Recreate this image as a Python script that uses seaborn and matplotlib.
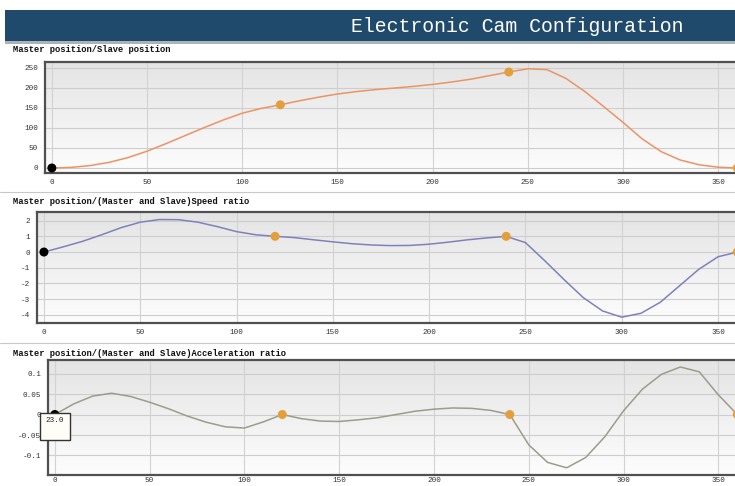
import numpy as np
import pandas as pd
import matplotlib
matplotlib.use("Agg")
import matplotlib.pyplot as plt
from matplotlib.patches import Rectangle
from matplotlib.colors import LinearSegmentedColormap
import seaborn as sns

# ---------------- data ----------------
master = [0, 10, 20, 30, 40, 50, 60, 70, 80, 90, 100, 110, 120,
          130, 140, 150, 160, 170, 180, 190, 200, 210, 220, 230, 240,
          250, 260, 270, 280, 290, 300, 310, 320, 330, 340, 350, 360]

slave_pos = [0, 1.5, 6, 14, 26, 42, 61, 81, 101, 120, 137, 149, 158,
             168, 177, 185, 191, 196, 200, 204, 209, 215, 222, 231, 240,
             248, 246, 224, 191, 153, 114, 73, 41, 20, 8, 2, 0]

speed_ratio = [0, 0.33, 0.68, 1.1, 1.55, 1.9, 2.07, 2.06, 1.9, 1.62, 1.3, 1.1, 1.0,
               0.92, 0.78, 0.65, 0.53, 0.45, 0.41, 0.42, 0.5, 0.63, 0.78, 0.9, 1.0,
               0.6, -0.55, -1.75, -2.9, -3.75, -4.15, -3.9, -3.2, -2.15, -1.1, -0.3, 0]

accel_ratio = [0, 0.026, 0.045, 0.052, 0.044, 0.03, 0.014, -0.004, -0.019, -0.03, -0.033, -0.018, 0,
               -0.01, -0.016, -0.017, -0.013, -0.008, 0.0, 0.008, 0.013, 0.016, 0.015, 0.01, 0,
               -0.074, -0.117, -0.13, -0.105, -0.055, 0.009, 0.062, 0.098, 0.116, 0.104, 0.048, 0]

key_master = [0, 120, 240, 360]
key_pos = [0, 158, 240, 0]
key_speed = [0, 1.0, 1.0, 0]
key_accel = [0, 0, 0, 0]

x_ticks = [0, 50, 100, 150, 200, 250, 300, 350]
pos_ticks = [0, 50, 100, 150, 200, 250]
speed_ticks = [2, 1, 0, -1, -2, -3, -4]
accel_ticks = [0.1, 0.05, 0, -0.05, -0.1]
accel_labels = ["0.1", "0.05", "0", "-0.05", "-0.1"]

title = "Electronic Cam Configuration"
sub1 = "Master position/Slave position"
sub2 = "Master position/(Master and Slave)Speed ratio"
sub3 = "Master position/(Master and Slave)Acceleration ratio"
tooltip = "23.0"

df = pd.DataFrame({"master": master, "pos": slave_pos,
                   "speed": speed_ratio, "accel": accel_ratio})
keys = pd.DataFrame({"master": key_master, "pos": key_pos,
                     "speed": key_speed, "accel": key_accel})

# ---------------- figure ----------------
sns.set_style("white")
plt.rcParams["font.family"] = ["Liberation Mono", "DejaVu Sans Mono"]

W, H = 735, 486
fig = plt.figure(figsize=(W / 100, H / 100), dpi=100)
fig.patch.set_facecolor("white")

def fx(px):
    return px / W

def fy(py):
    return 1 - py / H

# title bar
fig.patches.append(Rectangle((fx(5), fy(41)), fx(730), 31 / H, transform=fig.transFigure,
                             facecolor="#1f4a6b", edgecolor="none", zorder=1))
fig.patches.append(Rectangle((fx(5), fy(44)), fx(730), 3 / H, transform=fig.transFigure,
                             facecolor="#a9b3ba", edgecolor="none", zorder=1))
fig.text(fx(517), fy(26), title, color="white", fontsize=14.2, ha="center", va="center",
         family=["Liberation Mono"])

# separators
for sy in (192, 343):
    fig.add_artist(plt.Line2D([0, 1], [fy(sy), fy(sy)], transform=fig.transFigure,
                              color="#c8c8c8", lw=0.8))

grad_cmap = LinearSegmentedColormap.from_list("g", ["#fdfdfd", "#e4e4e4"])

def make_ax(left, top, bottom, ylim, yticks, ylabels, ycol, color, subtitle, sub_y, xpad):
    ax = fig.add_axes([fx(left), fy(bottom), fx(W - left), (bottom - top) / H])
    grad = np.linspace(0, 1, 100)[:, None]
    ax.imshow(grad, extent=(0, 1, 0, 1), transform=ax.transAxes, cmap=grad_cmap,
              aspect="auto", origin="lower", zorder=0)
    ax.set_xlim(-3.6, 358.8)
    ax.set_ylim(*ylim)
    for t in yticks:
        ax.axhline(t, color="#cdcdcd", lw=0.8, zorder=1)
    for t in x_ticks:
        ax.axvline(t, color="#d2d2d2", lw=0.8, zorder=1)
    sns.lineplot(data=df, x="master", y=ycol, ax=ax, color=color, lw=1.1, zorder=3)
    sns.scatterplot(data=keys.iloc[1:], x="master", y=ycol, ax=ax, color="#e3a03a",
                    s=42, edgecolor="none", zorder=4)
    sns.scatterplot(data=keys.iloc[:1], x="master", y=ycol, ax=ax, color="black",
                    s=42, edgecolor="none", zorder=5)
    ax.set_xticks(x_ticks)
    ax.set_xticklabels([str(t) for t in x_ticks])
    ax.set_yticks(yticks)
    ax.set_yticklabels(ylabels)
    ax.tick_params(axis="both", length=0, labelsize=5.5, labelcolor="#333333")
    ax.tick_params(axis="x", pad=xpad)
    ax.tick_params(axis="y", pad=5)
    ax.set_xlabel("")
    ax.set_ylabel("")
    for side in ("left", "top", "bottom"):
        ax.spines[side].set_color("#505050")
        ax.spines[side].set_linewidth(1.6)
    ax.spines["right"].set_visible(False)
    fig.text(fx(13), fy(sub_y), subtitle, fontsize=6.3, fontweight="bold",
             ha="left", va="center", color="#111111")
    return ax

ax1 = make_ax(45, 62, 173, (-12.5, 265), pos_ticks, [str(t) for t in pos_ticks],
              "pos", "#ea9466", sub1, 50, 4.5)
ax2 = make_ax(37, 212, 323, (-4.52, 2.55), speed_ticks, [str(t) for t in speed_ticks],
              "speed", "#7f81bb", sub2, 202, 4.5)
ax3 = make_ax(48, 360, 475, (-0.1476, 0.133), accel_ticks, accel_labels,
              "accel", "#9c9c8a", sub3, 353, 1.2)

# tooltip box on the acceleration panel
fig.patches.append(Rectangle((fx(40), fy(440)), 30 / W, 27.5 / H, transform=fig.transFigure,
                             facecolor="#fffdf8", edgecolor="#333333", lw=1.0, zorder=10))
fig.text(fx(55), fy(420), tooltip, fontsize=5.5, ha="center", va="center",
         color="#222222", zorder=11)

fig.savefig("out.png", dpi=100)
